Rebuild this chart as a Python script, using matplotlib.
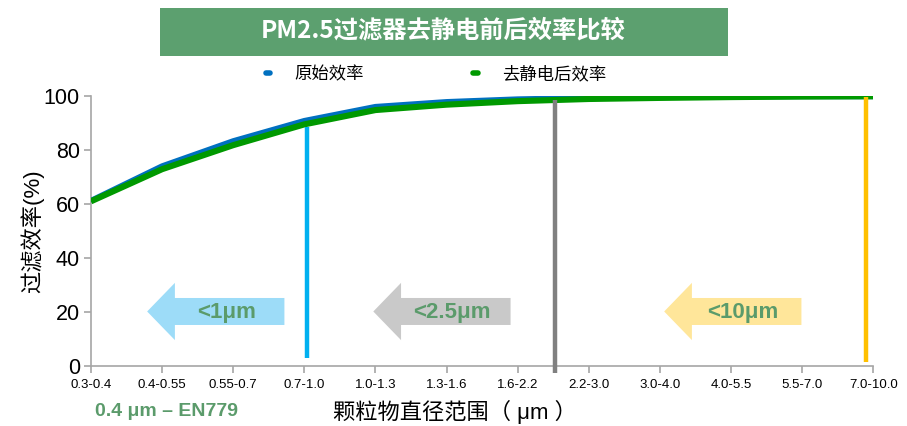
import matplotlib
matplotlib.use("Agg")
import matplotlib.pyplot as plt
from matplotlib.patches import Polygon, Rectangle
from matplotlib.lines import Line2D

plt.rcParams['font.family'] = ['Liberation Sans', 'Noto Sans CJK SC', 'DejaVu Sans']

# Particle size bins
categories = ["0.3-0.4", "0.4-0.55", "0.55-0.7", "0.7-1.0", "1.0-1.3", "1.3-1.6",
              "1.6-2.2", "2.2-3.0", "3.0-4.0", "4.0-5.5", "5.5-7.0", "7.0-10.0"]
# Filtration efficiency (%)
eff_original = [61.2, 74.0, 83.3, 90.8, 96.0, 97.8, 98.8, 99.3, 99.6, 99.8, 99.9, 99.9]
eff_discharged = [61.0, 72.9, 81.8, 89.5, 94.8, 96.8, 98.1, 98.9, 99.3, 99.6, 99.8, 99.9]

series_names = ["原始效率", "去静电后效率"]
title = "PM2.5过滤器去静电前后效率比较"
ylabel = "过滤效率(%)"
xlabel = "颗粒物直径范围（ μm ）"
note = "0.4 μm – EN779"
yticks = [0, 20, 40, 60, 80, 100]

# Size-limit markers: (x position in bin units, y start, y end, color)
markers = [(3.04, 3, 88.5, "#00B0F0"), (6.52, -2.5, 98.6, "#808080"), (10.9, 1.5, 99.6, "#FFC000")]
# Left-pointing arrow labels: (tip x, text, fill)
arrows = [(0.79, "<1μm", "#9DDCF8"), (3.97, "<2.5μm", "#C9C9C9"), (8.06, "<10μm", "#FFE69A")]

blue = "#0070C0"
green = "#009900"
label_green = "#5B9B6B"

fig = plt.figure(figsize=(9.07, 4.26), dpi=100)
ax = fig.add_axes([0.1003, 0.1408, 0.8625, 0.6338])

x = list(range(len(categories)))
ax.plot(x, eff_original, color=blue, lw=4.2, solid_capstyle='butt', zorder=3)
ax.plot(x, eff_discharged, color=green, lw=4.4, solid_capstyle='butt', zorder=4)

for xv, y0, y1, c in markers:
    ax.plot([xv, xv], [y0, y1], color=c, lw=3.2, solid_capstyle='butt', zorder=5, clip_on=False)

# arrow geometry in bin / percent units
head_len, total_len = 0.39, 1.93
body_lo, body_hi, head_lo, head_hi, mid = 15.2, 25.2, 9.6, 30.8, 20.2
for tip, txt, fill in arrows:
    pts = [(tip, mid), (tip + head_len, head_hi), (tip + head_len, body_hi),
           (tip + total_len, body_hi), (tip + total_len, body_lo),
           (tip + head_len, body_lo), (tip + head_len, head_lo)]
    ax.add_patch(Polygon(pts, closed=True, facecolor=fill, edgecolor='none', zorder=2))
    ax.text(tip + head_len + (total_len - head_len) / 2 - 0.05, mid - 0.5, txt, color=label_green,
            fontsize=16, fontweight='bold', ha='center', va='center', zorder=3)

ax.set_xlim(0, len(categories) - 1)
ax.set_ylim(0, 100)
ax.set_xticks(x)
ax.set_xticklabels(categories, fontsize=9.5)
ax.set_yticks(yticks)
ax.set_yticklabels([str(v) for v in yticks], fontsize=15.5)
for s in ['top', 'right']:
    ax.spines[s].set_visible(False)
for s in ['left', 'bottom']:
    ax.spines[s].set_color('#A6A6A6')
    ax.spines[s].set_linewidth(1.2)
ax.tick_params(axis='both', color='#A6A6A6', length=5, width=1.2, direction='out')
ax.tick_params(axis='x', pad=4)
ax.tick_params(axis='y', pad=3)

ax.set_ylabel(ylabel, fontsize=16, labelpad=0)
fig.text(0.502, 0.034, xlabel, fontsize=16, ha='center', va='center')
fig.text(0.105, 0.034, note, fontsize=14, fontweight='bold', color=label_green, ha='left', va='center')

# title banner
fig.patches.append(Rectangle((0.1764, 0.869), 0.6262, 0.113, transform=fig.transFigure,
                             facecolor='#5CA06F', edgecolor='none', zorder=0))
fig.text(0.489, 0.926, title, fontsize=17.5, fontweight='bold', color='white',
         ha='center', va='center', family=['Noto Sans CJK SC', 'DejaVu Sans'])

# legend
handles = [Line2D([0], [0], color=blue, lw=4, solid_capstyle='round'),
           Line2D([0], [0], color=green, lw=4, solid_capstyle='round')]
fig.legend(handles, series_names, loc='center left', bbox_to_anchor=(0.293, 0.825), ncol=2,
           frameon=False, handlelength=0.25, columnspacing=6.3, handletextpad=1.4,
           borderpad=0, borderaxespad=0,
           prop={'family': ['Noto Sans CJK SC', 'DejaVu Sans'], 'size': 12.5})

fig.savefig("out.png", dpi=100)
